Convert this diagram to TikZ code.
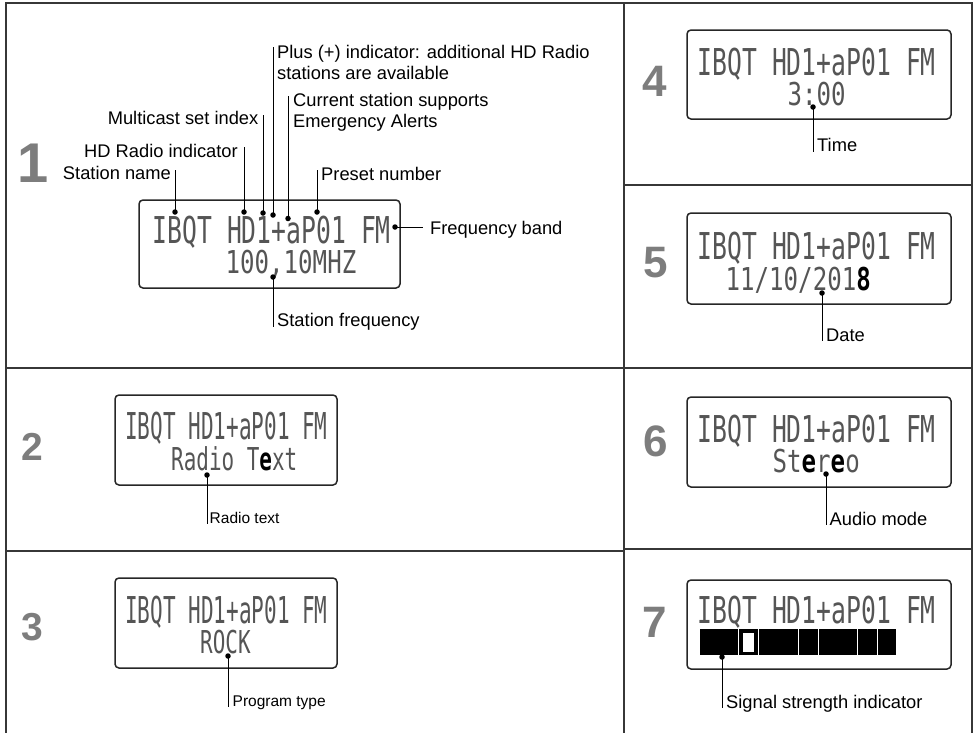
\documentclass[tikz,border=0pt]{standalone}
\usepackage{fontspec}
\usepackage{graphicx}
\setmainfont{Liberation Sans}
\newfontfamily\lcdfont{DejaVu Sans Mono}
\definecolor{numgray}{RGB}{125,125,125}
\definecolor{framegray}{RGB}{55,55,55}
\definecolor{lcdgray}{RGB}{85,85,85}
\newcommand\lcdtxt[3]{\scalebox{#1}[1]{\lcdfont\fontsize{#2}{#2}\selectfont #3}}
\newcommand\lineA[1]{\lcdtxt{0.668}{37}{#1}}
\newcommand\lineB[1]{\lcdtxt{0.765}{31.5}{#1}}
\newcommand\lineAs[1]{\lcdtxt{0.568}{37}{#1}}
\newcommand\lineBs[1]{\lcdtxt{0.665}{31.5}{#1}}
\newcommand\hb[1]{{\bfseries\color{black}#1}}
\begin{document}
\begin{tikzpicture}[x=1pt,y=-1pt,
  frame/.style={draw=framegray, line width=2pt},
  lcd/.style={draw=black!85, line width=1.5pt, rounded corners=4pt},
  dotm/.style={circle, fill=black, inner sep=0pt, minimum size=5.5pt},
  lbl/.style={font=\fontsize{18.3}{21}\selectfont, inner sep=0pt, align=left},
  lbls/.style={font=\fontsize{15.5}{18}\selectfont, inner sep=0pt},
  lead/.style={draw=black, line width=0.9pt},
  pnum/.style={font=\bfseries\fontsize{44}{44}\selectfont, text=numgray, inner sep=0pt},
  lcdt/.style={inner sep=0pt, text=lcdgray, anchor=base west}]
\useasboundingbox (0,0) rectangle (976,732);

% frame
\draw[frame] (6,734) -- (6,3) -- (972,3) -- (972,734);
\draw[frame] (624,3) -- (624,734);
\draw[frame] (6,368) -- (624,368);
\draw[frame] (6,551) -- (624,551);
\draw[frame] (624,185) -- (972,185);
\draw[frame] (624,368) -- (972,368);
\draw[frame] (624,549) -- (972,549);

% panel numbers
\node[pnum, font=\bfseries\fontsize{56}{56}\selectfont] (n1) at (33.5,163) {1};
\node[pnum, font=\bfseries\fontsize{39}{39}\selectfont] (n2) at (32,447) {2};
\node[pnum, font=\bfseries\fontsize{39}{39}\selectfont] (n3) at (32,627.5) {3};
\node[pnum] (n4) at (655,81) {4};
\node[pnum] (n5) at (655.5,262.5) {5};
\node[pnum] (n6) at (655.5,441) {6};
\node[pnum] (n7) at (655,622) {7};

% LCD boxes
\draw[lcd] (139,200) rectangle (400,288);
\draw[lcd] (115,395) rectangle (337,485);
\draw[lcd] (115,578) rectangle (337,668);
\draw[lcd] (687,30) rectangle (951,119);
\draw[lcd] (687,213) rectangle (951,304);
\draw[lcd] (687,397) rectangle (951,487);
\draw[lcd] (687,580) rectangle (951,669);

% LCD texts
\node[lcdt] (t1a) at (152.5,243) {\lineA{IBQT HD1+aP01 FM}};
\node[lcdt] (t1b) at (225.5,273) {\lineB{100,10MHZ}};
\node[lcdt] (t2a) at (125,439) {\lineAs{IBQT HD1+aP01 FM}};
\node[lcdt] (t2b) at (171,470) {\lineBs{Radio T\hb{e}xt}};
\node[lcdt] (t3a) at (125,623) {\lineAs{IBQT HD1+aP01 FM}};
\node[lcdt] (t3b) at (200,653) {\lineBs{ROCK}};
\node[lcdt] (t4a) at (697.5,75.5) {\lineA{IBQT HD1+aP01 FM}};
\node[lcdt] (t4b) at (787.5,105.5) {\lineB{3:00}};
\node[lcdt] (t5a) at (697.5,259.5) {\lineA{IBQT HD1+aP01 FM}};
\node[lcdt] (t5b) at (725.5,290) {\lineB{11/10/201\hb{8}}};
\node[lcdt] (t6a) at (697.5,442) {\lineA{IBQT HD1+aP01 FM}};
\node[lcdt] (t6b) at (772.5,472) {\lineB{St\hb{e}r\hb{e}o}};
\node[lcdt] (t7a) at (697.5,623) {\lineA{IBQT HD1+aP01 FM}};

% signal strength bars
\fill[black] (700,629) rectangle (738.3,655);
\fill[black] (739.3,629) rectangle (758.3,655);
\fill[white] (743.3,632.7) rectangle (754,651.7);
\fill[black] (759.3,629) rectangle (797.7,655);
\fill[black] (798.7,629) rectangle (817.7,655);
\fill[black] (818.7,629) rectangle (856.7,655);
\fill[black] (857.7,629) rectangle (876.7,655);
\fill[black] (877.7,629) rectangle (896,655);

% panel 1 labels
\node[lbl, anchor=base east] (lSN) at (171,179.5) {Station name};
\node[dotm] (dSN) at (175,212) {};
\draw[lead, shorten >=3.5pt] (dSN.center) -- (dSN.center |- lSN.north);

\node[lbl, anchor=base east] (lHD) at (238,157) {HD Radio indicator};
\node[dotm] (dHD) at (244,212) {};
\draw[lead, shorten >=3.5pt] (dHD.center) -- (dHD.center |- lHD.north);

\node[lbl, anchor=base east] (lMC) at (258.5,124.5) {Multicast set index};
\node[dotm] (dMC) at (263,213) {};
\draw[lead, shorten >=3.5pt] (dMC.center) -- (dMC.center |- lMC.north);

\node[lbl, anchor=north west] (lPL) at (277,45.5) {Plus (+) indicator: additional HD Radio\\stations are available};
\node[dotm] (dPL) at (273,215) {};
\draw[lead, shorten >=1.5pt] (dPL.center) -- (dPL.center |- lPL.north);

\node[lbl, anchor=north west] (lCS) at (293,93) {Current station supports\\Emergency Alerts};
\node[dotm] (dCS) at (288,218.5) {};
\draw[lead, shorten >=3pt] (dCS.center) -- (dCS.center |- lCS.north);

\node[lbl, anchor=base west] (lPN) at (321,180) {Preset number};
\node[dotm] (dPN) at (317,212) {};
\draw[lead, shorten >=3.4pt] (dPN.center) -- (dPN.center |- lPN.north);

\node[lbl, anchor=base west] (lFB) at (430,234) {Frequency band};
\node[dotm] (dFB) at (395,227) {};
\draw[lead, shorten >=7pt] (dFB.center) -- (dFB.center -| lFB.west);

\node[lbl, anchor=base west] (lSF) at (277,326.5) {Station frequency};
\node[dotm] (dSF) at (273,277) {};
\draw[lead] (dSF.center) -- (dSF.center |- lSF.base);

% other panels
\node[lbls, anchor=base west] (lRT) at (209.5,523.5) {Radio text};
\node[dotm] (dRT) at (207,475) {};
\draw[lead] (dRT.center) -- (dRT.center |- lRT.base);

\node[lbls, anchor=base west] (lPT) at (232.5,706.5) {Program type};
\node[dotm] (dPT) at (228,656) {};
\draw[lead] (dPT.center) -- (dPT.center |- lPT.base);

\node[lbl, anchor=base west] (lTI) at (817,151.5) {Time};
\node[dotm] (dTI) at (813,107) {};
\draw[lead] (dTI.center) -- (dTI.center |- lTI.base);

\node[lbl, anchor=base west] (lDA) at (826,341) {Date};
\node[dotm] (dDA) at (822,293) {};
\draw[lead] (dDA.center) -- (dDA.center |- lDA.base);

\node[lbl, anchor=base west] (lAM) at (829.5,525) {Audio mode};
\node[dotm] (dAM) at (826,474) {};
\draw[lead] (dAM.center) -- (dAM.center |- lAM.base);

\node[lbl, anchor=base west] (lSS) at (726,708) {Signal strength indicator};
\node[dotm] (dSS) at (722,657) {};
\draw[lead] (dSS.center) -- (dSS.center |- lSS.base);
\end{tikzpicture}
\end{document}
